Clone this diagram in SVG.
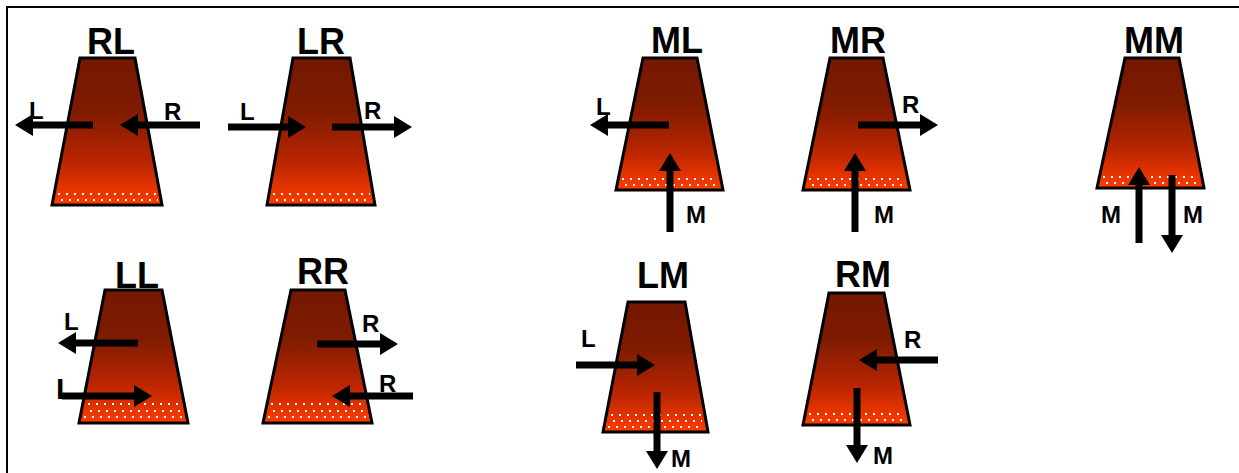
<svg xmlns="http://www.w3.org/2000/svg" width="1239" height="473" viewBox="0 0 1239 473">
<defs>
<linearGradient id="g" x1="0" y1="0" x2="0" y2="1">
<stop offset="0" stop-color="#741800"/>
<stop offset="0.35" stop-color="#7e1b00"/>
<stop offset="0.7" stop-color="#b82500"/>
<stop offset="1" stop-color="#ff3c00"/>
</linearGradient>
<marker id="ah" markerUnits="userSpaceOnUse" viewBox="0 0 18 22" markerWidth="18" markerHeight="22" refX="2" refY="11" orient="auto">
<path d="M0,0 L18,11 L0,22 z" fill="#000"/>
</marker>
<style>
.t{fill:url(#g);stroke:#000;stroke-width:3;stroke-linejoin:miter}
.d{stroke:#fff;stroke-width:2;stroke-dasharray:2 6}
.a{stroke:#000;stroke-width:7;marker-end:url(#ah)}
.h{font-family:"Liberation Sans",Arial,sans-serif;font-weight:bold;font-size:36px;text-anchor:middle;fill:#000}
.s{font-family:"Liberation Sans",Arial,sans-serif;font-weight:bold;font-size:24px;fill:#000}
</style>
</defs>
<rect x="0" y="0" width="1239" height="473" fill="#fff"/>
<g id="frame" stroke="#000" stroke-width="2">
<line x1="7" y1="7" x2="1239" y2="7"/>
<line x1="7" y1="6" x2="7" y2="473"/>
</g>
<g id="RL">
<polygon class="t" points="80,58 135,58 162,205 52,205"/>
<line class="d" x1="58" y1="194" x2="157" y2="194"/>
<line class="d" x1="57" y1="200" x2="158" y2="200" stroke-dashoffset="4"/>
<text class="h" x="111" y="54">RL</text>
<line class="a" x1="93" y1="125" x2="31" y2="125"/>
<line class="a" x1="200" y1="125" x2="136" y2="125"/>
<text class="s" x="29" y="119">L</text>
<text class="s" x="164" y="120">R</text>
</g>
<g id="LR">
<polygon class="t" points="293,58 350,58 375,205 267,205"/>
<line class="d" x1="273" y1="194" x2="370" y2="194"/>
<line class="d" x1="272" y1="200" x2="371" y2="200" stroke-dashoffset="4"/>
<text class="h" x="321" y="54">LR</text>
<line class="a" x1="228" y1="127" x2="290" y2="127"/>
<line class="a" x1="332" y1="127" x2="396" y2="127"/>
<text class="s" x="240" y="120">L</text>
<text class="s" x="364" y="119">R</text>
</g>
<g id="LL">
<polygon class="t" points="105,290 162,290 188,423 79,423"/>
<line class="d" x1="88" y1="404" x2="180" y2="404"/>
<line class="d" x1="86" y1="411" x2="182" y2="411" stroke-dashoffset="4"/>
<line class="d" x1="84" y1="417" x2="183" y2="417"/>
<text class="h" x="137" y="288">LL</text>
<line class="a" x1="138" y1="343" x2="74" y2="343"/>
<line class="a" x1="62" y1="396" x2="136" y2="396"/>
<text style="font-family:'Liberation Sans',Arial,sans-serif;font-weight:bold;font-size:30px" x="56" y="399">L</text>
<text class="s" x="64" y="330">L</text>
</g>
<g id="RR">
<polygon class="t" points="291,290 345,290 372,423 263,423"/>
<line class="d" x1="271" y1="404" x2="364" y2="404"/>
<line class="d" x1="269" y1="411" x2="366" y2="411" stroke-dashoffset="4"/>
<line class="d" x1="268" y1="417" x2="367" y2="417"/>
<text class="h" x="323" y="284">RR</text>
<line class="a" x1="317" y1="344" x2="382" y2="344"/>
<line class="a" x1="413" y1="396" x2="348" y2="396"/>
<text class="s" x="362" y="332">R</text>
<text class="s" x="379" y="392">R</text>
</g>
<g id="ML">
<polygon class="t" points="643,58 697,58 723,190 616,190"/>
<line class="d" x1="622" y1="179" x2="717" y2="179"/>
<line class="d" x1="621" y1="185" x2="718" y2="185" stroke-dashoffset="4"/>
<text class="h" x="677" y="53">ML</text>
<line class="a" x1="669" y1="125" x2="606" y2="125"/>
<line class="a" x1="670" y1="232" x2="670" y2="169"/>
<text class="s" x="596" y="115">L</text>
<text class="s" x="686" y="223">M</text>
</g>
<g id="MR">
<polygon class="t" points="830,58 883,58 910,190 803,190"/>
<line class="d" x1="809" y1="179" x2="904" y2="179"/>
<line class="d" x1="808" y1="185" x2="905" y2="185" stroke-dashoffset="4"/>
<text class="h" x="858" y="53">MR</text>
<line class="a" x1="858" y1="125" x2="922" y2="125"/>
<line class="a" x1="855" y1="232" x2="855" y2="169"/>
<text class="s" x="902" y="113">R</text>
<text class="s" x="874" y="223">M</text>
</g>
<g id="MM">
<polygon class="t" points="1125,58 1179,58 1204,188 1097,188"/>
<line class="d" x1="1103" y1="177" x2="1198" y2="177"/>
<line class="d" x1="1102" y1="183" x2="1199" y2="183" stroke-dashoffset="4"/>
<text class="h" x="1154" y="53">MM</text>
<line class="a" x1="1139" y1="243" x2="1139" y2="183"/>
<line class="a" x1="1172" y1="175" x2="1172" y2="237"/>
<text class="s" x="1101" y="223">M</text>
<text class="s" x="1183" y="223">M</text>
</g>
<g id="LM">
<polygon class="t" points="628,302 685,302 708,432 603,432"/>
<line class="d" x1="611" y1="415" x2="701" y2="415"/>
<line class="d" x1="609" y1="421" x2="702" y2="421" stroke-dashoffset="4"/>
<line class="d" x1="608" y1="427" x2="703" y2="427"/>
<text class="h" x="663" y="288">LM</text>
<line class="a" x1="576" y1="365" x2="639" y2="365"/>
<line class="a" x1="657" y1="392" x2="657" y2="453"/>
<text class="s" x="581" y="347">L</text>
<text class="s" x="671" y="467">M</text>
</g>
<g id="RM">
<polygon class="t" points="829,293 884,293 910,425 803,425"/>
<line class="d" x1="809" y1="414" x2="904" y2="414"/>
<line class="d" x1="808" y1="420" x2="905" y2="420" stroke-dashoffset="4"/>
<text class="h" x="863" y="287">RM</text>
<line class="a" x1="938" y1="360" x2="875" y2="360"/>
<line class="a" x1="857" y1="388" x2="857" y2="447"/>
<text class="s" x="904" y="348">R</text>
<text class="s" x="873" y="464">M</text>
</g>
<g id="connectors"></g>
</svg>
